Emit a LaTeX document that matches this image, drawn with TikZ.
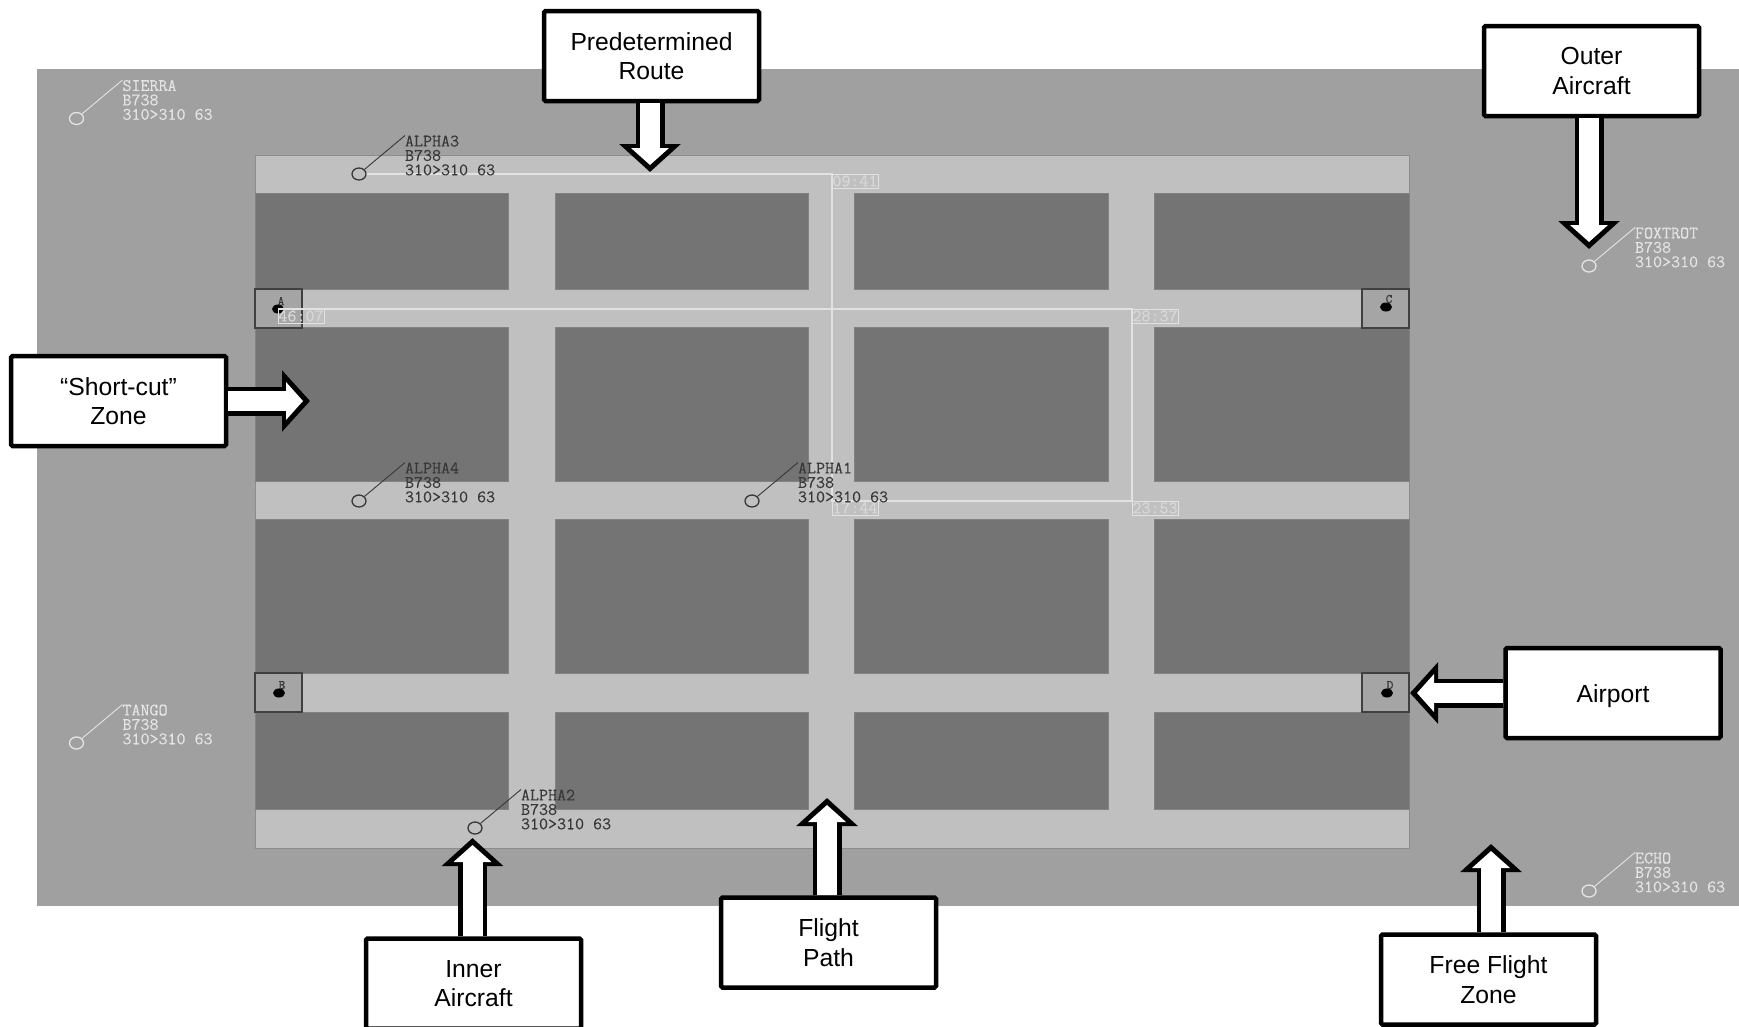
\documentclass[tikz,border=0pt]{standalone}
\usepackage{fontspec}
\setmainfont{Liberation Sans}
\newfontfamily\tagfont[FakeBold=0.25]{Latin Modern Mono}
\usetikzlibrary{arrows.meta,shapes.geometric}
\definecolor{bgzone}{HTML}{A0A0A0}
\definecolor{corridor}{HTML}{C0C0C0}
\definecolor{block}{HTML}{747474}
\definecolor{routeline}{HTML}{E2E2E2}
\definecolor{tagdark}{HTML}{383838}
\definecolor{taglight}{HTML}{E4E4E4}
\tikzset{
  x=1pt,y=-1pt,
  blockcell/.style={fill=block,draw=block!90!white,line width=0.8pt},
  portbox/.style={draw=black!75,fill=bgzone!95!white,line width=1.3pt},
  blob/.style={ellipse,fill=black,inner sep=0pt,minimum width=12pt,minimum height=9pt},
  portletter/.style={text=black!80,font=\fontsize{13}{13}\selectfont\tagfont,inner sep=0pt},
  routepath/.style={draw=routeline,line width=1.2pt},
  timebox/.style={draw=routeline,line width=1pt,text=routeline!90!gray,anchor=north west,inner sep=0pt,outer sep=0pt,
    minimum width=46pt,minimum height=14pt,font=\fontsize{17.5}{14.4}\selectfont\tagfont},
  plane/.style={ellipse,draw=#1,line width=1.3pt,inner sep=0pt,minimum width=14pt,minimum height=12pt},
  lead/.style={draw=#1,line width=0.9pt},
  tag/.style={text=#1,anchor=north west,inner sep=0pt,outer sep=0pt,align=left,
    font=\fontsize{17.5}{14.4}\selectfont\tagfont},
  callout/.style={draw=black,fill=white,line width=4.5pt,rounded corners=1.5pt,minimum width=215pt,minimum height=90pt,
    align=center,text=black,font=\fontsize{24.7}{29.6}\selectfont,inner sep=0pt},
  blockarrow/.style={draw=black,line width=29pt,-{Triangle[length=28pt,width=60pt,color=black]},
    postaction={draw=white,line width=20pt,shorten >=7pt,-{Triangle[length=17pt,width=37pt,color=white]}}},
}
\newcommand{\aircraftmark}[5]{%
  \node[plane=#4] (#1) at (#2,#3) {};
  \node[tag=#4] (#1t) at (#2+46,#3-38.5) {#5};
  \draw[lead=#4] (#1) -- (#1t.north west);
}
\newcommand{\airportmark}[4]{%
  \node[blob] (#1b) at (#2,#3) {};
  \node[portletter] (#1l) at (#2+3,#3-8) {#4};
}
\begin{document}
\begin{tikzpicture}
\path[use as bounding box,clip] (0,0) rectangle (1739,1026);
\fill[white] (0,0) rectangle (1739,1026);
\fill[bgzone] (37,69) rectangle (1739,906);
\draw[fill=corridor,draw=black!45,line width=0.8pt] (255,155) rectangle (1409,848);
% blocks
\foreach \xa/\xb in {255/508,555/808,854/1108,1154/1409}{
  \foreach \ya/\yb in {193/289,327/481,519/673,712/809}{
    \draw[blockcell] (\xa,\ya) rectangle (\xb,\yb);
  }
}
% airports
\draw[portbox] (255,289) rectangle (302,328);
\draw[portbox] (1362,289) rectangle (1409,328);
\draw[portbox] (255,673) rectangle (302,712);
\draw[portbox] (1362,673) rectangle (1409,712);
\airportmark{pa}{278}{309}{A}
\airportmark{pc}{1386}{307}{C}
\airportmark{pb}{279}{693}{B}
\airportmark{pd}{1387}{693}{D}
% time boxes
\node[timebox] (t09) at (832,174) {09:41};
\node[timebox] (t46) at (278,309) {46:07};
\node[timebox] (t28) at (1132,309) {28:37};
\node[timebox] (t17) at (832,501) {17:44};
\node[timebox] (t23) at (1132,501) {23:53};
% route, under the aircraft
\coordinate (routestart) at (366,174);
\draw[routepath] (routestart) -- (t09.north west) -- (t17.north west) -- (t23.north west) -- (t28.north west) -- (t46.north west);
% aircraft
\aircraftmark{sierra}{76.5}{118.5}{taglight}{SIERRA\\B738\\310>310 63}
\aircraftmark{alphac}{359}{174}{tagdark}{ALPHA3\\B738\\310>310 63}
\aircraftmark{foxtrot}{1589}{266}{taglight}{FOXTROT\\B738\\310>310 63}
\aircraftmark{alphad}{359}{501}{tagdark}{ALPHA4\\B738\\310>310 63}
\aircraftmark{alphaa}{752}{501}{tagdark}{ALPHA1\\B738\\310>310 63}
\aircraftmark{tango}{76.5}{743}{taglight}{TANGO\\B738\\310>310 63}
\aircraftmark{alphab}{475}{828}{tagdark}{ALPHA2\\B738\\310>310 63}
\aircraftmark{echo}{1589}{891}{taglight}{ECHO\\B738\\310>310 63}
% callouts
\node[callout] (pred) at (651.5,56) {Predetermined\\Route};
\node[callout] (outer) at (1591.5,71) {Outer\\Aircraft};
\node[callout] (short) at (118.5,401) {“Short-cut”\\Zone};
\node[callout,text height=18pt,text depth=0pt] (airport) at (1613,693) {Airport};
\node[callout] (inner) at (473.5,983.5) {Inner\\Aircraft};
\node[callout] (flight) at (828.5,942.5) {Flight\\Path};
\node[callout] (free) at (1488.5,979.5) {Free Flight\\Zone};
% arrow tips
\coordinate (tippred) at (650,172);
\coordinate (tipouter) at (1589,249);
\coordinate (tipshort) at (310,401);
\coordinate (tipairport) at (1410,693);
\coordinate (tipinner) at (472.5,838);
\coordinate (tipflight) at (827,798);
\coordinate (tipfree) at (1491,844);
\draw[blockarrow] (pred.south -| tippred) -- (tippred);
\draw[blockarrow] (outer.south -| tipouter) -- (tipouter);
\draw[blockarrow] (short.east |- tipshort) -- (tipshort);
\draw[blockarrow] (airport.west |- tipairport) -- (tipairport);
\draw[blockarrow] (inner.north -| tipinner) -- (tipinner);
\draw[blockarrow] (flight.north -| tipflight) -- (tipflight);
\draw[blockarrow] (free.north -| tipfree) -- (tipfree);
\end{tikzpicture}
\end{document}
